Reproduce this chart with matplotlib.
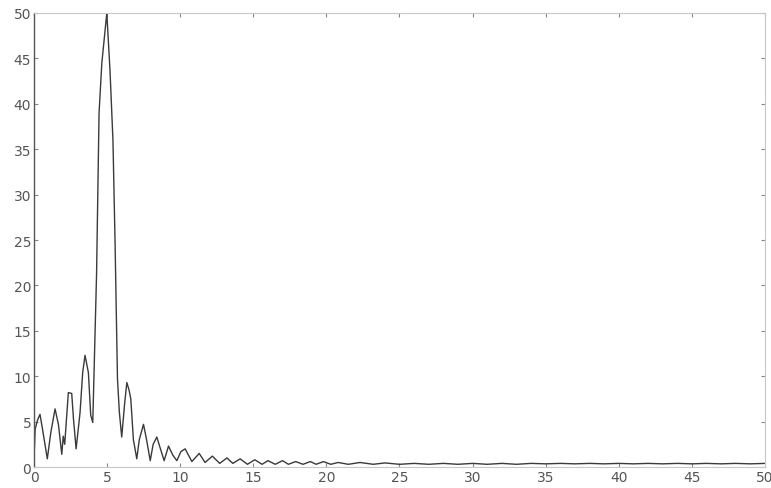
import matplotlib
matplotlib.use("Agg")
import matplotlib.pyplot as plt

# Magnitude spectrum samples (frequency, magnitude)
freq = [0.0, 0.08, 0.25, 0.41, 0.6, 0.91, 1.15, 1.44, 1.67, 1.9, 2.0, 2.1,
        2.35, 2.58, 2.7, 2.88, 3.15, 3.33, 3.49, 3.72, 3.88, 4.02,
        4.28, 4.45, 4.64, 4.98, 5.2, 5.4, 5.55, 5.62, 5.71, 5.84, 6.0,
        6.2, 6.35, 6.5, 6.62, 6.8, 7.03, 7.2, 7.49, 7.7, 7.95, 8.15, 8.4,
        8.65, 8.9, 9.2, 9.5, 9.77, 10.05, 10.34, 10.6, 10.8, 11.3, 11.7,
        12.2, 12.7, 13.2, 13.6, 14.1, 14.6, 15.1, 15.6, 16.0, 16.5, 17.0,
        17.4, 17.9, 18.4, 18.9, 19.3, 19.8, 20.3, 20.8, 21.5, 22.3, 23.2,
        24.0, 25.0, 26.0, 27.0, 28.0, 29.0, 30.0, 31.0, 32.0, 33.0, 34.0,
        35.0, 36.0, 37.0, 38.0, 39.0, 40.0, 41.0, 42.0, 43.0, 44.0, 45.0,
        46.0, 47.0, 48.0, 49.0, 50.0]
magnitude = [0.9, 4.2, 5.2, 5.8, 4.0, 0.9, 3.8, 6.4, 4.7, 1.4, 3.4, 2.5,
             8.2, 8.1, 5.3, 2.0, 6.0, 10.4, 12.3, 10.4, 5.7, 4.9,
             21.3, 39.0, 44.5, 50.0, 43.6, 36.0, 24.3, 17.8, 9.7, 6.0, 3.3,
             7.0, 9.3, 8.5, 7.5, 3.0, 0.9, 3.0, 4.7, 3.0, 0.7, 2.5, 3.3,
             2.0, 0.7, 2.3, 1.3, 0.7, 1.7, 2.0, 1.2, 0.6, 1.5, 0.5,
             1.2, 0.4, 1.0, 0.4, 0.9, 0.3, 0.8, 0.3, 0.7, 0.3, 0.7,
             0.3, 0.6, 0.3, 0.6, 0.3, 0.6, 0.3, 0.5, 0.3, 0.5, 0.3,
             0.45, 0.3, 0.4, 0.3, 0.4, 0.3, 0.4, 0.3, 0.4, 0.3, 0.4,
             0.35, 0.4, 0.35, 0.4, 0.35, 0.4, 0.35, 0.4, 0.35, 0.4, 0.35,
             0.4, 0.35, 0.4, 0.35, 0.4]

x_ticks = [0, 5, 10, 15, 20, 25, 30, 35, 40, 45, 50]
y_ticks = [0, 5, 10, 15, 20, 25, 30, 35, 40, 45, 50]

fig = plt.figure(figsize=(7.71, 4.89), dpi=100)
ax = fig.add_axes([0.0441, 0.0429, 0.9481, 0.9285])

ax.plot(freq, magnitude, color="#3a3a3a", linewidth=1.0)

ax.set_xlim(0, 50)
ax.set_ylim(0, 50)
ax.set_xticks(x_ticks)
ax.set_yticks(y_ticks)
ax.tick_params(direction="in", length=3, width=0.8, colors="#888888",
               labelcolor="#555555", labelsize=10, top=True, right=True,
               pad=2)

ax.spines["left"].set_color("#555555")
ax.spines["left"].set_linewidth(1.0)
for side in ("top", "right", "bottom"):
    ax.spines[side].set_color("#c8c8c8")
    ax.spines[side].set_linewidth(0.8)

fig.savefig("out.png", dpi=100)
